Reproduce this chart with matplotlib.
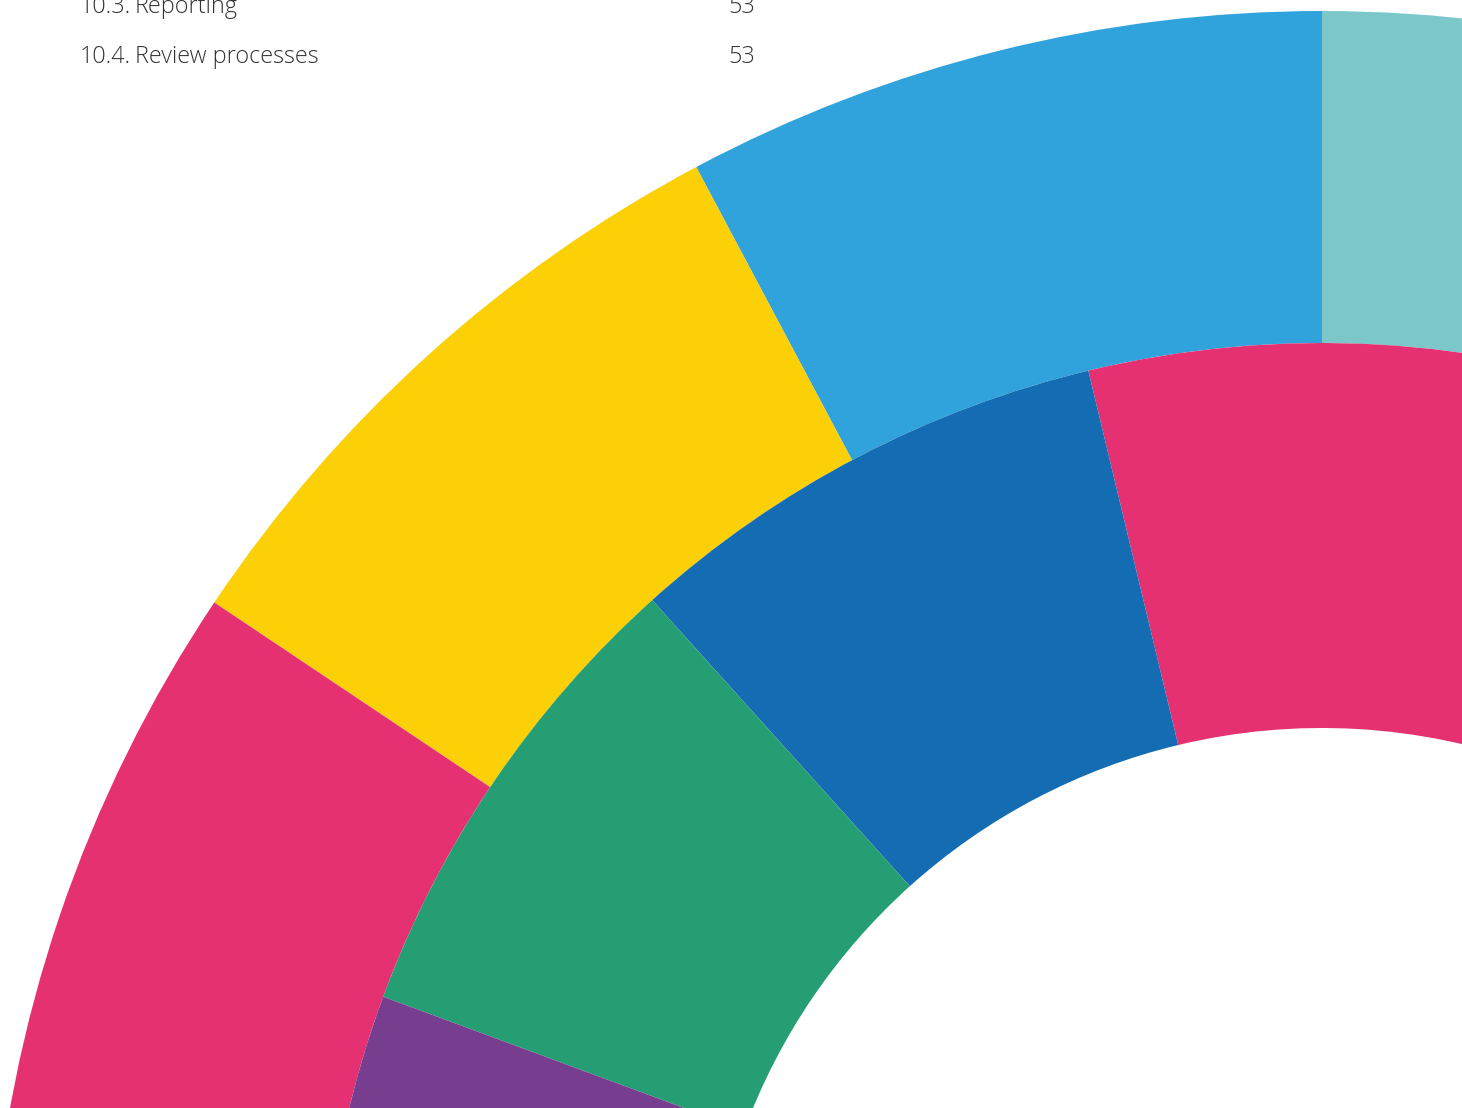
import matplotlib
matplotlib.use("Agg")
import matplotlib.pyplot as plt

# ring segments, sizes in degrees (counter-clockwise from the start angle)
# the last entry of each ring is the part that falls outside the crop
outer_labels = ["teal", "light blue", "yellow", "pink", "rest"]
outer_sizes = [30, 28, 28.2, 30, 243.8]
outer_colors = ["#7BC7C9", "#31A3DC", "#FCD006", "#E53171", "none"]
outer_start = 60

inner_labels = ["pink", "dark blue", "green", "purple", "rest"]
inner_sizes = [33.5, 28.5, 27.7, 15, 255.3]
inner_colors = ["#E53171", "#146DB3", "#269E73", "#773E8F", "none"]
inner_start = 70

# ring radii in pixels
r_outer = 1333
r_mid = 1001
r_inner = 616

# table of contents lines at the top
toc_numbers = ["10.3.", "10.4."]
toc_items = ["Reporting", "Review processes"]
toc_pages = ["53", "53"]

fig = plt.figure(figsize=(14.62, 11.08), dpi=100)
ax = fig.add_axes([0, 0, 1, 1])

# outer ring
ax.pie(outer_sizes, colors=outer_colors, radius=r_outer, startangle=outer_start,
       counterclock=True, wedgeprops=dict(width=r_outer - r_mid, linewidth=0),
       center=(0, 0), frame=True)
# inner ring
ax.pie(inner_sizes, colors=inner_colors, radius=r_mid, startangle=inner_start,
       counterclock=True, wedgeprops=dict(width=r_mid - r_inner, linewidth=0),
       center=(0, 0), frame=True)

# crop the donut the same way as the page
ax.set_xlim(-1322, 140)
ax.set_ylim(236, 1344)
ax.set_aspect("equal")
ax.axis("off")

# contents text (figure coords, y measured from the top)
font = dict(fontsize=16.8, family=["Open Sans", "DejaVu Sans"], weight="light",
            color="#333333", va="baseline")
for i, (num, item, page) in enumerate(zip(toc_numbers, toc_items, toc_pages)):
    y = 1 - (13 + 50 * i) / 1108
    fig.text(80 / 1462, y, num, ha="left", **font)
    fig.text(135 / 1462, y, item, ha="left", **font)
    fig.text(755 / 1462, y, page, ha="right", **font)

fig.savefig("out.png", dpi=100)
